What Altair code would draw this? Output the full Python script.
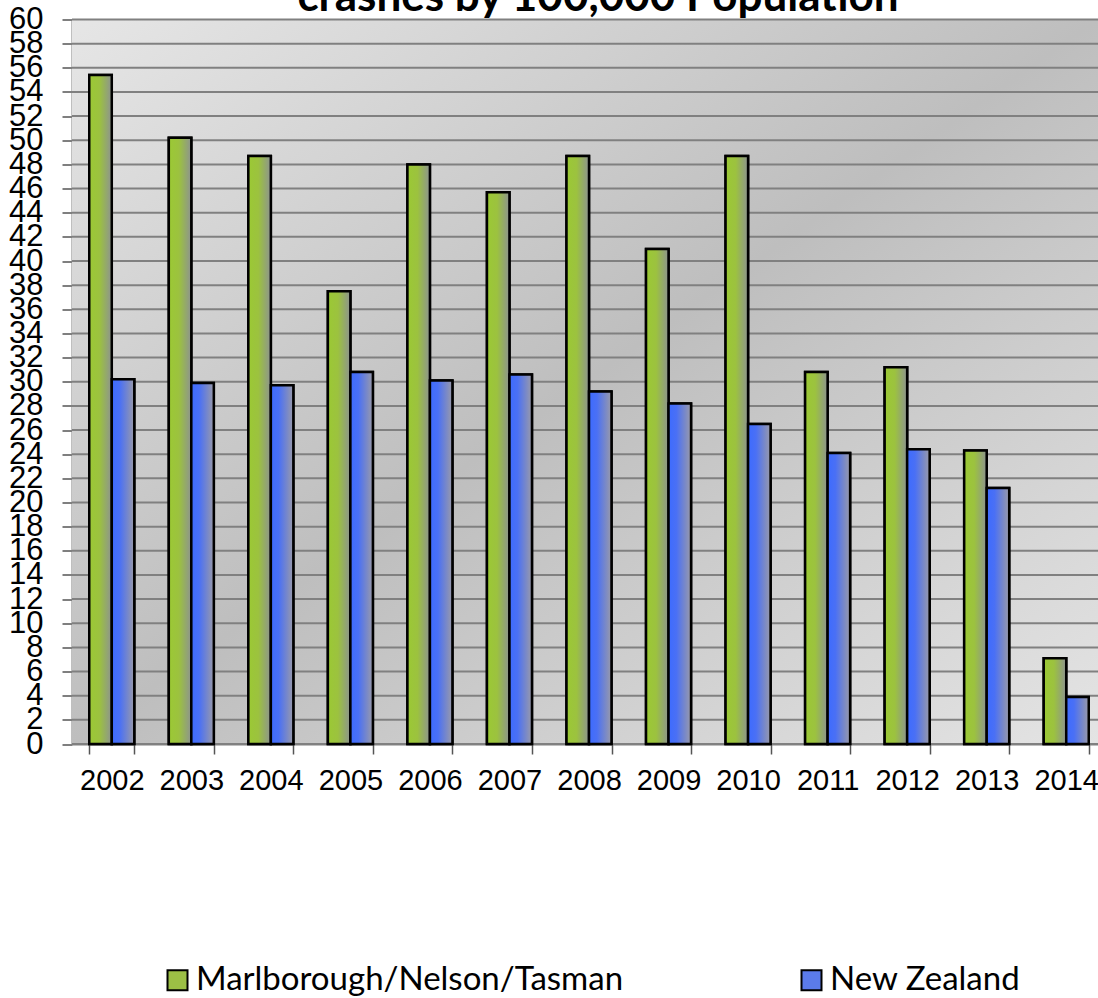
import altair as alt
import pandas as pd

title_text = "crashes by 100,000 Population"
years = ["2002", "2003", "2004", "2005", "2006", "2007", "2008",
         "2009", "2010", "2011", "2012", "2013", "2014"]
series_names = ["Marlborough/Nelson/Tasman", "New Zealand"]
mnt_values = [55.4, 50.2, 48.7, 37.5, 48.0, 45.7, 48.7, 41.0, 48.7, 30.8, 31.2, 24.3, 7.1]
nz_values = [30.2, 29.9, 29.7, 30.8, 30.1, 30.6, 29.2, 28.2, 26.5, 24.1, 24.4, 21.2, 3.9]
y_ticks = list(range(0, 61, 2))

rows = []
for i, y in enumerate(years):
    rows.append({"year": y, "series": series_names[0], "value": mnt_values[i]})
    rows.append({"year": y, "series": series_names[1], "value": nz_values[i]})
df = pd.DataFrame(rows)
grid_df = pd.DataFrame({"value": y_ticks})

W = 1026
H = 724.5

GREEN_GRAD = {"gradient": "linear", "x1": 0, "y1": 0, "x2": 1, "y2": 0,
              "stops": [{"offset": 0, "color": "#9bc934"},
                        {"offset": 0.45, "color": "#9cc23f"},
                        {"offset": 1, "color": "#8d9390"}]}
BLUE_GRAD = {"gradient": "linear", "x1": 0, "y1": 0, "x2": 1, "y2": 0,
             "stops": [{"offset": 0, "color": "#3d6bff"},
                       {"offset": 0.35, "color": "#4a70f5"},
                       {"offset": 1, "color": "#9a9aa8"}]}
BG_GRAD = {"gradient": "linear", "x1": 0, "y1": 0, "x2": 1, "y2": 1,
           "stops": [{"offset": 0, "color": "#e6e6e6"},
                     {"offset": 0.5, "color": "#bebebe"},
                     {"offset": 1, "color": "#e4e4e4"}]}

y_scale = alt.Scale(domain=[0, 60], nice=False, zero=True)
y_axis = alt.Axis(values=y_ticks, title=None, grid=False, tickSize=10,
                  labelPadding=19, labelFontSize=31, labelFont="Liberation Sans",
                  labelColor="black", tickColor="#555555", tickWidth=1.5,
                  domainColor="#808080", domainWidth=2, labelOverlap=False,
                  labelBound=False)
y_enc = alt.Y("value:Q", scale=y_scale, axis=y_axis)

bg = alt.Chart(pd.DataFrame({"k": [0]})).mark_rect(fill=BG_GRAD).encode(
    x=alt.value(0), x2=alt.value(W), y=alt.value(0), y2=alt.value(H)
)

title = alt.Chart(pd.DataFrame({"t": [title_text]})).mark_text(
    font="Lato", fontSize=44, fontWeight="bold", color="black",
    align="center", baseline="alphabetic"
).encode(text="t:N", x=alt.value(526), y=alt.value(-9))

grid = alt.Chart(grid_df).mark_rule(color="#808080", strokeWidth=2).encode(
    y=y_enc, x=alt.value(0), x2=alt.value(W)
)

x_enc = alt.X("year:N", sort=years,
              scale=alt.Scale(range=[0, 1034], paddingInner=0.434, paddingOuter=0.217),
              axis=alt.Axis(title=None, labelAngle=0, tickBand="extent", tickSize=10,
                            labelPadding=12, labelFontSize=29, labelFont="Liberation Sans",
                            labelColor="black", tickColor="#555555", tickWidth=1.5,
                            domainColor="#808080", domainWidth=2, grid=False))
xo_enc = alt.XOffset("series:N", sort=series_names,
                     scale=alt.Scale(paddingInner=0, paddingOuter=0))

legend = alt.Legend(
    title=None, orient="none", legendX=89, legendY=944, direction="horizontal",
    labelFont="Lato", labelFontSize=33, labelColor="black", labelOffset=2,
    labelLimit=2000,
    symbolType="square", symbolSize=400, symbolStrokeColor="black",
    symbolStrokeWidth=2, columnPadding=171, padding=0, symbolOpacity=1
)

bars_legend = alt.Chart(df).mark_bar(stroke="black", strokeWidth=2.5).encode(
    x=x_enc, xOffset=xo_enc, y=y_enc,
    fill=alt.Fill("series:N", sort=series_names,
                  scale=alt.Scale(domain=series_names, range=["#9cbf45", "#5b7bea"]),
                  legend=legend)
)

bars = alt.Chart(df).mark_bar(stroke="black", strokeWidth=2.5).encode(
    x=x_enc, xOffset=xo_enc, y=y_enc,
    fill=alt.condition("datum.series === 'New Zealand'", alt.value(BLUE_GRAD), alt.value(GREEN_GRAD))
)

chart = alt.layer(bg, grid, bars_legend, bars, title).properties(
    width=W, height=H,
    autosize=alt.AutoSizeParams(type="none"),
    padding={"left": 72, "top": 19.5, "right": 0, "bottom": 254}
).configure_view(stroke=None, fill=None).configure(background="white")

chart.save("out.html", embed_options={"renderer": "svg", "actions": False})
